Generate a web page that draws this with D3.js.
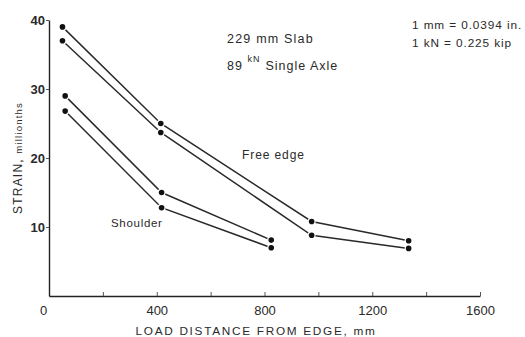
<!DOCTYPE html>
<html>
<head>
<meta charset="utf-8">
<script src="https://cdn.jsdelivr.net/npm/d3@7"></script>
<style>
  body { margin: 0; background: #fff; }
  svg text { font-family: "Liberation Sans", "DejaVu Sans", sans-serif; fill: #2a2a2a; }
</style>
</head>
<body>
<div id="chart"></div>
<script>
// load distance from edge, mm
const freeEdgeX = [50, 415, 975, 1335];
const freeEdgeUpper = [39, 25, 10.8, 8];
const freeEdgeLower = [37, 23.7, 8.8, 6.9];
const shoulderX = [60, 418, 825];
const shoulderUpper = [29, 15, 8.1];
const shoulderLower = [26.8, 12.8, 7];
const xTicks = [0, 200, 400, 600, 800, 1000, 1200, 1400, 1600];
const xLabels = [0, 400, 800, 1200, 1600];
const yTicks = [10, 20, 30, 40];

const width = 525, height = 337;
const svg = d3.select('#chart').append('svg')
  .attr('width', width)
  .attr('height', height);

// scales
const x = d3.scaleLinear().domain([0, 1600]).range([49, 480]);
const y = d3.scaleLinear().domain([0, 40]).range([296, 20]);

// x axis, ticks pointing up
const xAxis = svg.append('g')
  .attr('transform', `translate(0, ${y(0)})`)
  .call(d3.axisBottom(x).tickValues(xTicks).tickSizeInner(-4).tickSizeOuter(0)
    .tickFormat(d => xLabels.includes(d) ? d : ''));
xAxis.select('.domain').attr('stroke', '#222').attr('stroke-width', 1.4);
xAxis.selectAll('.tick line').attr('stroke', '#555').attr('stroke-width', 1);
xAxis.selectAll('.tick text')
  .attr('y', 10).attr('font-size', 13).attr('fill', '#2a2a2a')
  .attr('dx', d => d === 0 ? -6 : 0);

// y axis
const yAxis = svg.append('g')
  .attr('transform', `translate(${x(0)}, 0)`)
  .call(d3.axisLeft(y).tickValues(yTicks).tickSizeInner(3).tickSizeOuter(0));
yAxis.select('.domain').attr('stroke', '#222').attr('stroke-width', 1.4);
yAxis.selectAll('.tick line').attr('stroke', '#555');
yAxis.selectAll('.tick text')
  .attr('x', -4).attr('font-size', 13).attr('font-weight', 'bold').attr('fill', '#3a3a3a');

// axis titles
svg.append('text')
  .attr('x', 256).attr('y', 335)
  .attr('text-anchor', 'middle')
  .attr('font-size', 11.8)
  .attr('letter-spacing', 1.7)
  .text('LOAD DISTANCE FROM EDGE, mm');

const yTitle = svg.append('text')
  .attr('transform', 'translate(22, 158) rotate(-90)')
  .attr('text-anchor', 'middle')
  .attr('letter-spacing', 1.2);
yTitle.append('tspan').attr('font-size', 12).text('STRAIN, ');
yTitle.append('tspan').attr('font-size', 9.5).text('millionths');

// series
const series = [
  { xs: freeEdgeX, ys: freeEdgeUpper },
  { xs: freeEdgeX, ys: freeEdgeLower },
  { xs: shoulderX, ys: shoulderUpper },
  { xs: shoulderX, ys: shoulderLower }
];

const line = d3.line().x(d => x(d[0])).y(d => y(d[1]));
const plot = svg.append('g');

series.forEach(s => {
  const pts = s.xs.map((v, i) => [v, s.ys[i]]);
  plot.append('path')
    .attr('d', line(pts))
    .attr('fill', 'none')
    .attr('stroke', '#2a2a2a')
    .attr('stroke-width', 1.5);
});

series.forEach(s => {
  const pts = s.xs.map((v, i) => [v, s.ys[i]]);
  plot.selectAll(null)
    .data(pts)
    .enter().append('circle')
    .attr('cx', d => x(d[0]))
    .attr('cy', d => y(d[1]))
    .attr('r', 2.8)
    .attr('fill', '#111')
    .attr('stroke', '#fff')
    .attr('stroke-width', 2.4)
    .attr('paint-order', 'stroke');
});

// annotations
svg.append('text').attr('x', 227).attr('y', 43).attr('font-size', 12.5)
  .attr('letter-spacing', 1.2).text('229 mm Slab');
const axle = svg.append('text').attr('x', 227).attr('y', 70).attr('font-size', 12.5)
  .attr('letter-spacing', 1.0);
axle.append('tspan').text('89 ');
axle.append('tspan').attr('font-size', 9).attr('dy', -8).text('kN');
axle.append('tspan').attr('dy', 8).attr('dx', 5).text('Single Axle');

svg.append('text').attr('x', 412).attr('y', 29).attr('font-size', 11.8)
  .attr('letter-spacing', 0.9).text('1 mm = 0.0394 in.');
svg.append('text').attr('x', 412).attr('y', 47).attr('font-size', 11.8)
  .attr('letter-spacing', 0.9).text('1 kN = 0.225 kip');

svg.append('text').attr('x', 242).attr('y', 159).attr('font-size', 12)
  .attr('letter-spacing', 0.9).text('Free edge');
svg.append('text').attr('x', 111).attr('y', 227).attr('font-size', 11.5)
  .attr('letter-spacing', 0.7).text('Shoulder');
</script>
</body>
</html>
